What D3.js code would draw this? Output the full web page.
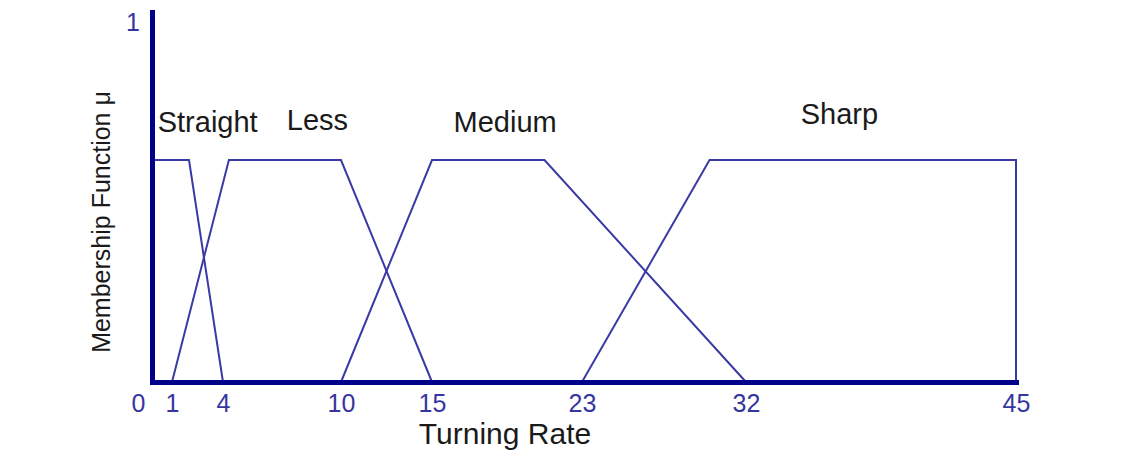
<!DOCTYPE html>
<html>
<head>
<meta charset="utf-8">
<script src="https://cdn.jsdelivr.net/npm/d3@7"></script>
<style>
  body { margin: 0; background: #fff; }
  svg { display: block; }
</style>
</head>
<body>
<div id="chart"></div>
<script>
const width = 1141;
const height = 451;

// turning rate ticks (the original axis is drawn slightly uneven)
const xTicks = [0, 1, 4, 10, 15, 23, 32, 45];
const xTickPx = [152, 172, 223, 341, 432, 582, 746, 1016];

const setNames = ["Straight", "Less", "Medium", "Sharp"];
// corner points of each membership function: [turning rate, mu]
const straightPts = [[0, 0.6], [2, 0.6], [4, 0]];
const lessPts = [[1, 0], [4.3, 0.6], [10, 0.6], [15, 0]];
const mediumPts = [[10, 0], [15, 0.6], [21, 0.6], [32, 0]];
const sharpPts = [[23, 0], [30, 0.6], [45, 0.6], [45, 0]];
// where the set names sit
const labelX = [3.1, 8.8, 18.9, 36.5];
const labelMu = [0.675, 0.68, 0.675, 0.697];

const sets = [straightPts, lessPts, mediumPts, sharpPts];

const axisColor = "#00008a";
const lineColor = "#3a3aa6";
const tickColor = "#3535a0";
const font = "'Liberation Sans', Arial, sans-serif";

const svg = d3.select("#chart")
    .append("svg")
    .attr("width", width)
    .attr("height", height);

const x = d3.scaleLinear()
    .domain(xTicks)
    .range(xTickPx);

const y = d3.scaleLinear()
    .domain([0, 1])
    .range([382, 12]);

const line = d3.line()
    .x(d => x(d[0]))
    .y(d => y(d[1]));

svg.append("g")
    .selectAll("path")
    .data(sets)
    .enter()
    .append("path")
    .attr("d", line)
    .attr("fill", "none")
    .attr("stroke", lineColor)
    .attr("stroke-width", 2)
    .attr("stroke-linejoin", "miter");

// axes
const xAxis = d3.axisBottom(x)
    .tickValues(xTicks)
    .tickSize(0)
    .tickPadding(12)
    .tickFormat(d3.format("d"));

const xg = svg.append("g")
    .attr("transform", `translate(0,${y(0)})`)
    .call(xAxis);

xg.select(".domain")
    .attr("stroke", axisColor)
    .attr("stroke-width", 5)
    .attr("stroke-linecap", "square");

xg.selectAll("text")
    .attr("fill", tickColor)
    .attr("font-size", "25px")
    .attr("font-family", font)
    .attr("dy", "0.71em")
    .attr("y", 12)
    .filter(d => d === 0)
    .attr("text-anchor", "end")
    .attr("dx", -7);

const yAxis = d3.axisLeft(y)
    .tickValues([1])
    .tickSize(0)
    .tickPadding(12)
    .tickFormat(d3.format("d"));

const yg = svg.append("g")
    .attr("transform", `translate(${x(0)},0)`)
    .call(yAxis);

yg.select(".domain")
    .attr("stroke", axisColor)
    .attr("stroke-width", 5)
    .attr("stroke-linecap", "square");

yg.selectAll("text")
    .attr("fill", tickColor)
    .attr("font-size", "25px")
    .attr("font-family", font)
    .attr("dy", "0.35em")
    .attr("y", 10);

// set names
svg.append("g")
    .selectAll("text")
    .data(setNames)
    .enter()
    .append("text")
    .attr("x", (d, i) => x(labelX[i]))
    .attr("y", (d, i) => y(labelMu[i]))
    .attr("text-anchor", "middle")
    .attr("font-size", "29px")
    .attr("font-family", font)
    .attr("fill", "#1a1a1a")
    .text(d => d);

// axis titles
svg.append("text")
    .attr("x", 505)
    .attr("y", 444)
    .attr("text-anchor", "middle")
    .attr("font-size", "30px")
    .attr("font-family", font)
    .attr("fill", "#1a1a1a")
    .text("Turning Rate");

svg.append("text")
    .attr("transform", "translate(110,222) rotate(-90)")
    .attr("text-anchor", "middle")
    .attr("font-size", "25px")
    .attr("font-family", font)
    .attr("fill", "#1a1a1a")
    .text("Membership Function μ");
</script>
</body>
</html>
